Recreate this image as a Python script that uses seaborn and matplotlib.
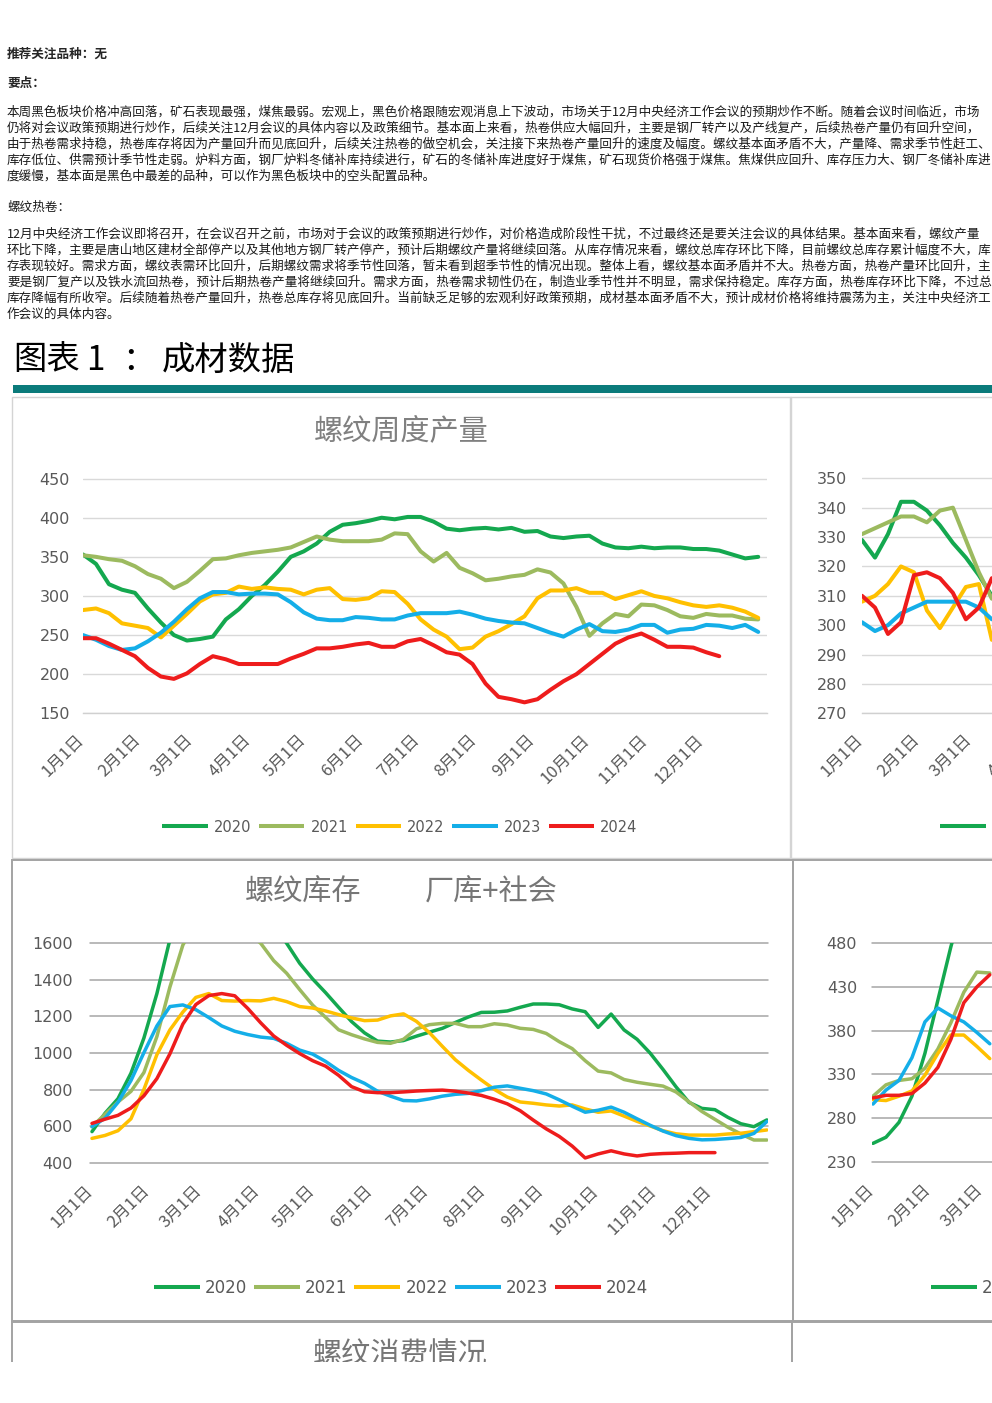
import numpy as np
import pandas as pd
import matplotlib
matplotlib.use('Agg')
import matplotlib.pyplot as plt
import seaborn as sns
from matplotlib.patches import Rectangle
from matplotlib.lines import Line2D
from matplotlib.transforms import ScaledTranslation, blended_transform_factory

# ---------------------------------------------------------------- data
YEARS = ['2020', '2021', '2022', '2023', '2024']
COLORS = ['#14a84f', '#9cba5f', '#ffc000', '#14aee8', '#ee1c1c']
MONTH_LABELS = ['1月1日', '2月1日', '3月1日', '4月1日', '5月1日', '6月1日',
                '7月1日', '8月1日', '9月1日', '10月1日', '11月1日', '12月1日']
MONTH_DAYS = [0, 31, 59, 90, 120, 151, 181, 212, 243, 273, 304, 334]
YEAR_END = 365
WEEK_STEP = 7

# 螺纹周度产量 (weekly, from first week of January)
PROD_2020 = [353, 341, 315, 308, 304, 284, 266, 250, 243, 245,
             248, 270, 283, 300, 314, 331, 350, 357, 367, 382,
             391, 393, 396, 400, 398, 401, 401, 395, 386, 384,
             386, 387, 385, 387, 382, 383, 376, 374, 376, 377,
             367, 362, 361, 363, 361, 362, 362, 360, 360, 358,
             353, 348, 350]
PROD_2021 = [352, 350, 347, 345, 338, 328, 322, 310, 318, 332,
             347, 348, 352, 355, 357, 359, 362, 369, 376, 372,
             370, 370, 370, 372, 380, 379, 357, 344, 355, 336,
             329, 320, 322, 325, 327, 334, 330, 316, 286, 249,
             265, 277, 274, 289, 288, 282, 274, 272, 277, 275,
             275, 271, 270]
PROD_2022 = [282, 284, 278, 265, 262, 259, 247, 262, 277, 293,
             302, 304, 312, 309, 311, 309, 308, 302, 308, 310,
             296, 295, 297, 306, 305, 290, 270, 257, 248, 232,
             234, 248, 255, 264, 274, 297, 307, 307, 310, 304,
             304, 296, 301, 306, 300, 297, 292, 288, 286, 288,
             285, 280, 272]
PROD_2023 = [250, 244, 236, 231, 233, 242, 253, 267, 283, 297,
             305, 305, 302, 303, 303, 302, 292, 279, 271, 269,
             269, 273, 272, 270, 270, 275, 278, 278, 278, 280,
             276, 271, 268, 266, 265, 259, 253, 248, 257, 264,
             255, 254, 257, 263, 263, 253, 257, 258, 263, 262,
             259, 263, 254]
PROD_2024 = [246, 246, 239, 231, 223, 208, 197, 194, 201, 213,
             223, 219, 213, 213, 213, 213, 220, 226, 233, 233,
             235, 238, 240, 235, 235, 242, 245, 237, 228, 225,
             213, 188, 171, 168, 164, 168, 180, 191, 200, 213,
             226, 239, 247, 252, 244, 235, 235, 234, 228, 223]

# right-hand production chart (only the start of the year is visible)
HR_2020 = [329, 323, 331, 342, 342, 339, 334, 328, 323, 317, 310]
HR_2021 = [331, 333, 335, 337, 337, 335, 339, 340, 329, 318, 309]
HR_2022 = [308, 310, 314, 320, 318, 305, 299, 306, 313, 314, 295]
HR_2023 = [301, 298, 300, 304, 306, 308, 308, 308, 308, 306, 302]
HR_2024 = [310, 306, 297, 301, 317, 318, 316, 311, 302, 306, 316]

# 螺纹库存 厂库+社会
STOCK_2020 = [570, 670, 750, 889, 1082, 1325, 1620, 1800, 1950, 2030,
              2010, 1950, 1880, 1790, 1700, 1600, 1491, 1405, 1330, 1250,
              1172, 1110, 1065, 1060, 1068, 1092, 1114, 1135, 1167, 1197,
              1222, 1223, 1230, 1250, 1268, 1268, 1264, 1241, 1226, 1140,
              1213, 1126, 1075, 1000, 910, 815, 730, 697, 690, 648,
              613, 597, 634]
STOCK_2021 = [597, 665, 732, 790, 893, 1090, 1360, 1590, 1720, 1790,
              1780, 1730, 1660, 1600, 1505, 1436, 1347, 1262, 1195, 1127,
              1100, 1077, 1058, 1053, 1075, 1132, 1155, 1162, 1162, 1144,
              1144, 1160, 1153, 1135, 1129, 1107, 1062, 1024, 958, 901,
              891, 855, 840, 829, 819, 787, 733, 680, 637, 594,
              557, 524, 524]
STOCK_2022 = [533, 549, 575, 640, 801, 991, 1126, 1224, 1304, 1325,
              1287, 1284, 1287, 1285, 1299, 1281, 1254, 1246, 1230, 1210,
              1192, 1177, 1180, 1203, 1214, 1173, 1111, 1036, 963, 905,
              852, 801, 759, 732, 725, 716, 710, 716, 694, 676,
              683, 655, 626, 601, 575, 558, 551, 551, 551, 557,
              561, 570, 579]
STOCK_2023 = [597, 643, 730, 849, 1002, 1148, 1254, 1263, 1237, 1194,
              1148, 1119, 1101, 1087, 1080, 1053, 1016, 994, 954, 905,
              866, 834, 791, 764, 740, 738, 749, 764, 774, 779,
              794, 813, 820, 807, 794, 776, 744, 709, 676, 687,
              704, 676, 640, 605, 573, 548, 533, 525, 527, 532,
              538, 560, 625]
STOCK_2024 = [615, 638, 659, 699, 766, 860, 995, 1158, 1265, 1314,
              1325, 1313, 1244, 1165, 1093, 1042, 997, 958, 928, 878,
              816, 788, 783, 783, 787, 792, 795, 797, 791, 781,
              768, 747, 722, 684, 633, 585, 544, 491, 426, 448,
              465, 448, 437, 446, 450, 452, 455, 455, 455]

# right-hand stock chart (only the start of the year is visible)
HS_2020 = [251, 258, 275, 305, 354, 415, 476, 530, 570, 590]
HS_2021 = [305, 318, 323, 325, 337, 359, 389, 424, 447, 446]
HS_2022 = [301, 300, 305, 311, 329, 354, 375, 375, 362, 348]
HS_2023 = [296, 312, 323, 349, 390, 406, 397, 390, 378, 365]
HS_2024 = [303, 306, 306, 308, 320, 338, 370, 412, 430, 444]

HEAD1 = '推荐关注品种：无'
HEAD2 = '要点：'
PARA1 = [
    '本周黑色板块价格冲高回落，矿石表现最强，煤焦最弱。宏观上，黑色价格跟随宏观消息上下波动，市场关于12月中央经济工作会议的预期炒作不断。随着会议时间临近，市场',
    '仍将对会议政策预期进行炒作，后续关注12月会议的具体内容以及政策细节。基本面上来看，热卷供应大幅回升，主要是钢厂转产以及产线复产，后续热卷产量仍有回升空间，',
    '由于热卷需求持稳，热卷库存将因为产量回升而见底回升，后续关注热卷的做空机会，关注接下来热卷产量回升的速度及幅度。螺纹基本面矛盾不大，产量降、需求季节性赶工、',
    '库存低位、供需预计季节性走弱。炉料方面，钢厂炉料冬储补库持续进行，矿石的冬储补库进度好于煤焦，矿石现货价格强于煤焦。焦煤供应回升、库存压力大、钢厂冬储补库进',
    '度缓慢，基本面是黑色中最差的品种，可以作为黑色板块中的空头配置品种。',
]
HEAD3 = '螺纹热卷：'
PARA2 = [
    '12月中央经济工作会议即将召开，在会议召开之前，市场对于会议的政策预期进行炒作，对价格造成阶段性干扰，不过最终还是要关注会议的具体结果。基本面来看，螺纹产量',
    '环比下降，主要是唐山地区建材全部停产以及其他地方钢厂转产停产，预计后期螺纹产量将继续回落。从库存情况来看，螺纹总库存环比下降，目前螺纹总库存累计幅度不大，库',
    '存表现较好。需求方面，螺纹表需环比回升，后期螺纹需求将季节性回落，暂未看到超季节性的情况出现。整体上看，螺纹基本面矛盾并不大。热卷方面，热卷产量环比回升，主',
    '要是钢厂复产以及铁水流回热卷，预计后期热卷产量将继续回升。需求方面，热卷需求韧性仍在，制造业季节性并不明显，需求保持稳定。库存方面，热卷库存环比下降，不过总',
    '库存降幅有所收窄。后续随着热卷产量回升，热卷总库存将见底回升。当前缺乏足够的宏观利好政策预期，成材基本面矛盾不大，预计成材价格将维持震荡为主，关注中央经济工',
    '作会议的具体内容。',
]
FIG_TITLE_PARTS = ['图表', '1', '：', '成材数据']
TITLE_PROD = '螺纹周度产量'
TITLE_STOCK_A = '螺纹库存'
TITLE_STOCK_B = '厂库+社会'
TITLE_CONS = '螺纹消费情况'

# ---------------------------------------------------------------- style
sns.set_style('white')
plt.rcParams['font.family'] = ['Noto Sans CJK SC', 'DejaVu Sans']
plt.rcParams['lines.solid_joinstyle'] = 'round'
plt.rcParams['lines.solid_capstyle'] = 'round'

W, H = 992, 1403
fig = plt.figure(figsize=(W / 100, H / 100), dpi=100, facecolor='white')
CJK = ['Noto Sans CJK SC', 'DejaVu Sans']
TICK_C = '#595959'


def fx(x):
    return x / W


def fy(y):
    return 1 - y / H


def axes_px(left, top, right, bottom):
    return fig.add_axes([left / W, 1 - bottom / H, (right - left) / W, (bottom - top) / H])


def frame_px(x0, y0, x1, y1, color, lw):
    fig.add_artist(Rectangle((fx(x0), fy(y1)), (x1 - x0) / W, (y1 - y0) / H,
                             transform=fig.transFigure, fill=False,
                             edgecolor=color, linewidth=lw, zorder=3))


def draw_lines(ax, series, lw):
    rows = []
    for year, vals in zip(YEARS, series):
        for i, v in enumerate(vals):
            rows.append({'day': i * WEEK_STEP, 'value': v, 'year': year})
    df = pd.DataFrame(rows)
    sns.lineplot(data=df, x='day', y='value', hue='year', hue_order=YEARS,
                 palette=COLORS, linewidth=lw, estimator=None, sort=False,
                 legend=False, ax=ax)
    ax.set_xlabel('')
    ax.set_ylabel('')


def month_labels(ax, dx_px, dy_px, fs):
    trans = blended_transform_factory(ax.transData, ax.transAxes) + \
        ScaledTranslation(dx_px / 100, -dy_px / 100, fig.dpi_scale_trans)
    for d, lab in zip(MONTH_DAYS, MONTH_LABELS):
        ax.text(d, 0, lab, transform=trans, rotation=45, rotation_mode='anchor',
                ha='right', va='top', fontsize=fs, color=TICK_C, clip_on=False,
                family=CJK)


def y_axis(ax, ticks, pad_px, fs=11.5):
    ax.set_yticks(ticks, labels=[str(t) for t in ticks], fontfamily='DejaVu Sans')
    ax.tick_params(axis='y', length=0, pad=pad_px * 0.72, labelsize=fs,
                   labelcolor=TICK_C)


def add_legend(ax, cx, cy, fs, hl, htp, cs, lw):
    handles = [Line2D([], [], color=c, lw=lw, solid_capstyle='butt') for c in COLORS]
    ax.legend(handles, YEARS, loc='center', bbox_to_anchor=(fx(cx), fy(cy)),
              bbox_transform=fig.transFigure, ncol=5, frameon=False,
              prop={'family': 'DejaVu Sans', 'size': fs}, labelcolor=TICK_C,
              handlelength=hl, handletextpad=htp, columnspacing=cs,
              borderpad=0, borderaxespad=0)


# ---------------------------------------------------------------- text block
fig.text(fx(7), fy(54), HEAD1, fontsize=9.1, weight='bold', va='center', family=CJK)
fig.text(fx(7), fy(83), HEAD2, fontsize=9.1, weight='bold', va='center', family=CJK)
for i, line in enumerate(PARA1):
    fig.text(fx(7), fy(112 + 16 * i), line, fontsize=9.05, va='center',
             color='#1a1a1a', family=CJK)
fig.text(fx(7), fy(207), HEAD3, fontsize=9.05, va='center', color='#1a1a1a', family=CJK)
for i, line in enumerate(PARA2):
    fig.text(fx(7), fy(234 + 16 * i), line, fontsize=9.05, va='center',
             color='#1a1a1a', family=CJK)

for part, x in zip(FIG_TITLE_PARTS, [13, 86, 122, 162]):
    fig.text(fx(x), fy(360), part, fontsize=24, weight='light', va='center',
             color='black', family=CJK)
fig.add_artist(Rectangle((fx(13), fy(393)), 1 - fx(13), 8 / H,
                         transform=fig.transFigure, facecolor='#0b7b7b',
                         edgecolor='none', zorder=3))

# ---------------------------------------------------------------- panels
frame_px(12, 397, 791, 858, '#d4d4d4', 1.0)
frame_px(790, 397, 1200, 858, '#d4d4d4', 1.0)
frame_px(12, 860, 793, 1321, '#a3a3a3', 1.4)
frame_px(793, 860, 1200, 1321, '#a3a3a3', 1.4)
frame_px(12, 1322, 792, 1500, '#a3a3a3', 1.4)
frame_px(792, 1322, 1200, 1500, '#a3a3a3', 1.4)

LABEL_FS = 12

# ---- chart 1: 螺纹周度产量
PX_DAY = 1.855
ax1 = axes_px(83, 713.3 - 302 * 0.7823, 767, 713.3)
draw_lines(ax1, [PROD_2020, PROD_2021, PROD_2022, PROD_2023, PROD_2024], 2.9)
ax1.set_xlim(0, (767 - 83) / PX_DAY)
ax1.set_ylim(150, 452)
y_axis(ax1, [150, 200, 250, 300, 350, 400, 450], 13)
ax1.set_xticks(MONTH_DAYS + [YEAR_END], labels=[''] * 13)
ax1.tick_params(axis='x', direction='out', length=5, width=1.0, color='#d0d0d0')
ax1.grid(axis='y', color='#d9d9d9', lw=1.0)
ax1.grid(axis='x', visible=False)
for s in ['top', 'right', 'left']:
    ax1.spines[s].set_visible(False)
ax1.spines['bottom'].set_color('#d0d0d0')
ax1.spines['bottom'].set_linewidth(1.0)
month_labels(ax1, -8, 18, LABEL_FS)
add_legend(ax1, 400, 827, 10.5, 3.1, 0.41, 0.55, 2.9)
fig.text(fx(401), fy(431), TITLE_PROD, fontsize=21, ha='center', va='center',
         color='#808080', family=CJK)

# ---- chart 2: right production chart (partially visible)
ax2 = axes_px(862, 713.3 - 82 * 2.9375, 862 + 684, 713.3)
draw_lines(ax2, [HR_2020, HR_2021, HR_2022, HR_2023, HR_2024], 2.9)
ax2.set_xlim(0, 684 / PX_DAY)
ax2.set_ylim(270, 352)
y_axis(ax2, [270, 280, 290, 300, 310, 320, 330, 340, 350], 15)
ax2.set_xticks(MONTH_DAYS + [YEAR_END], labels=[''] * 13)
ax2.tick_params(axis='x', direction='out', length=5, width=1.0, color='#d0d0d0')
ax2.grid(axis='y', color='#d9d9d9', lw=1.0)
ax2.grid(axis='x', visible=False)
for s in ['top', 'right', 'left']:
    ax2.spines[s].set_visible(False)
ax2.spines['bottom'].set_color('#d0d0d0')
ax2.spines['bottom'].set_linewidth(1.0)
month_labels(ax2, -8, 18, LABEL_FS)
add_legend(ax2, 1178, 827, 10.5, 3.1, 0.41, 0.55, 2.9)

# ---- chart 3: 螺纹库存
PX_DAY3 = 1.854
ax3 = axes_px(90, 943.3, 768, 1162.7)
draw_lines(ax3, [STOCK_2020, STOCK_2021, STOCK_2022, STOCK_2023, STOCK_2024], 2.5)
ax3.set_xlim(-2 / PX_DAY3, (768 - 92) / PX_DAY3)
ax3.set_ylim(400, 1600)
y_axis(ax3, [400, 600, 800, 1000, 1200, 1400, 1600], 17)
ax3.set_xticks(MONTH_DAYS, labels=[''] * 12)
ax3.tick_params(axis='x', length=0)
ax3.grid(axis='y', color='#a5a5a5', lw=1.1)
ax3.grid(axis='x', visible=False)
for gl in ax3.get_ygridlines():
    gl.set_clip_on(False)
for s in ax3.spines.values():
    s.set_visible(False)
month_labels(ax3, -8, 20, LABEL_FS)
add_legend(ax3, 401, 1288, 12, 2.76, 0.3, 0.42, 2.9)
fig.text(fx(303.5), fy(893), TITLE_STOCK_A, fontsize=21, ha='center', va='center',
         color='#767676', family=CJK)
fig.text(fx(491), fy(893), TITLE_STOCK_B, fontsize=21, ha='center', va='center',
         color='#767676', family=CJK)

# ---- chart 4: right stock chart (partially visible)
ax4 = axes_px(872, 943.3, 1550, 1161.7)
draw_lines(ax4, [HS_2020, HS_2021, HS_2022, HS_2023, HS_2024], 2.5)
ax4.set_xlim(-1 / PX_DAY3, (1550 - 873) / PX_DAY3)
ax4.set_ylim(230, 480)
y_axis(ax4, [230, 280, 330, 380, 430, 480], 15)
ax4.set_xticks(MONTH_DAYS, labels=[''] * 12)
ax4.tick_params(axis='x', length=0)
ax4.grid(axis='y', color='#a5a5a5', lw=1.1)
ax4.grid(axis='x', visible=False)
for gl in ax4.get_ygridlines():
    gl.set_clip_on(False)
for s in ax4.spines.values():
    s.set_visible(False)
month_labels(ax4, -8, 20, LABEL_FS)
add_legend(ax4, 1178, 1288, 12, 2.76, 0.3, 0.42, 2.9)

# ---- bottom partial panel title
fig.text(fx(400), fy(1356), TITLE_CONS, fontsize=21, ha='center', va='center',
         color='#767676', family=CJK)
fig.add_artist(Rectangle((0, 0), 1, fy(1362), transform=fig.transFigure,
                         facecolor='white', edgecolor='none', zorder=100))

fig.savefig('out.png', dpi=100, facecolor='white')
